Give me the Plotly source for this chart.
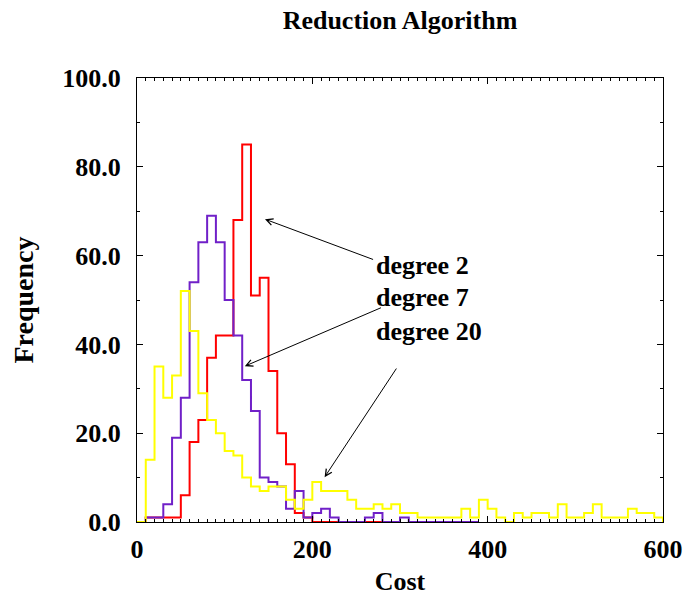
import plotly.graph_objects as go

BIN_WIDTH = 10

# Histogram frequencies per 10-unit cost bin, starting at cost 0
degree2 = [0, 1, 1, 1, 1, 6, 18, 23, 37, 42, 42, 68, 85, 51, 55, 34, 20, 13, 2, 1,
           0, 0, 0, 0, 0, 0, 0, 0]
degree7 = [0, 1, 1, 4, 19, 28, 54, 63, 69, 63, 50, 42, 32, 25, 10, 9, 8, 3, 7, 1,
           2, 3, 1, 0, 0, 0, 1, 2, 0, 0, 1, 0, 0, 0, 0, 0, 0, 0, 0]
degree20 = [0, 14, 35, 28, 33, 52, 43, 29, 23, 20, 16, 15, 10, 8, 7, 8, 8, 5, 3, 5,
            9, 7, 7, 7, 5, 3, 3, 4, 3, 4, 2, 2, 1, 1, 1, 1, 1, 3, 1, 5,
            3, 1, 0, 2, 1, 2, 2, 1, 4, 1, 1, 2, 4, 1, 1, 1, 3, 2, 2, 1]

series_names = ["degree 2", "degree 7", "degree 20"]
series_values = [degree2, degree7, degree20]
series_colors = ["#ff0000", "#7020c8", "#ffff00"]

x_tick_vals = [0, 200, 400, 600]
y_tick_vals = [0, 20, 40, 60, 80, 100]

# label positions (data coords) and arrow (head, tail) in data coords
label_x = 270
label_y = [57.7, 50.6, 43.0]
arrow_heads = [(146, 68.2), (123, 35.1), (214, 10.1)]
arrow_tails = [(271, 59.0), (280, 48.4), (297, 34.9)]

FONT = "Liberation Serif"

fig = go.Figure()
for name, vals, col in zip(series_names, series_values, series_colors):
    xs = [i * BIN_WIDTH for i in range(len(vals) + 1)]
    ys = list(vals) + [0]
    fig.add_trace(go.Scatter(x=xs, y=ys, mode="lines", line_shape="hv",
                             line=dict(color=col, width=2), name=name,
                             showlegend=False, hoverinfo="skip"))

for name, ly in zip(series_names, label_y):
    fig.add_annotation(x=label_x, y=ly, xref="x", yref="y", text=name,
                       showarrow=False, xanchor="left", yanchor="middle",
                       font=dict(family=FONT, size=26, color="black", weight="bold"))

for (hx, hy), (tx, ty) in zip(arrow_heads, arrow_tails):
    fig.add_annotation(x=hx, y=hy, ax=tx, ay=ty, xref="x", yref="y",
                       axref="x", ayref="y", text="", showarrow=True,
                       arrowhead=5, arrowsize=1.3, arrowwidth=1, arrowcolor="black")

axis_common = dict(showline=True, linecolor="black", linewidth=1, mirror="ticks",
                   ticks="inside", ticklen=6, tickcolor="black", tickwidth=1,
                   showgrid=False, zeroline=False, automargin=False,
                   tickfont=dict(family=FONT, size=26, color="black", weight="bold"))

fig.update_xaxes(range=[0, 600], tickvals=x_tick_vals,
                 ticktext=[str(v) for v in x_tick_vals],
                 minor=dict(dtick=10, ticks="inside", ticklen=3, tickcolor="black", showgrid=False),
                 title=dict(text="Cost", font=dict(family=FONT, size=26, color="black", weight="bold"),
                            standoff=10),
                 ticklabelstandoff=4,
                 **axis_common)
fig.update_yaxes(range=[0, 100], tickvals=y_tick_vals,
                 ticktext=[f"{v:.1f}" for v in y_tick_vals],
                 minor=dict(dtick=10, ticks="inside", ticklen=3, tickcolor="black", showgrid=False),
                 title=dict(text="Frequency", font=dict(family=FONT, size=28, color="black", weight="bold"),
                            standoff=20),
                 ticklabelstandoff=10,
                 **axis_common)

fig.update_layout(
    width=687, height=596,
    margin=dict(l=137, r=24, t=78, b=74),
    paper_bgcolor="white", plot_bgcolor="white",
    title=dict(text="Reduction Algorithm", x=0.5, xref="paper", y=1 - 20 / 596,
               yref="container", yanchor="middle", xanchor="center",
               font=dict(family=FONT, size=26, color="black", weight="bold")),
)

fig.write_html("out.html")
